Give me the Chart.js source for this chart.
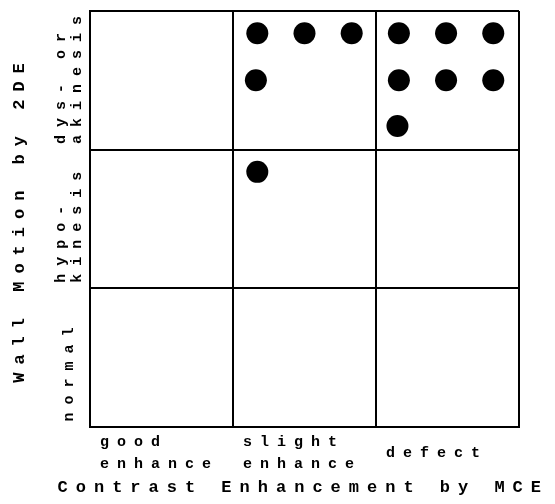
<!DOCTYPE html>
<html lang="en">
  <head>
    <meta charset="UTF-8" />
    <title>Wall Motion vs Contrast Enhancement</title>
    <script src="https://cdn.jsdelivr.net/npm/chart.js"></script>
    <style>
      html, body { margin: 0; padding: 0; background: #fff; }
      #wrap { width: 555px; height: 504px; }
    </style>
  </head>
  <body>
    <div id="wrap"><canvas id="grid" width="555" height="504"></canvas></div>
    <script>
      // categories along each axis (multi-line labels as arrays)
      const contrastCategories = [["good", "enhance"], ["slight", "enhance"], "defect"];
      const motionCategories = ["normal", ["hypo-", "kinesis"], ["dys- or", "akinesis"]];

      // one dot per case (x = contrast, y = wall motion)
      const caseContrast = [1.17, 1.5, 1.83, 1.16, 2.16, 2.49, 2.82, 2.16, 2.49, 2.82, 2.15, 1.17];
      const caseMotion = [2.84, 2.84, 2.84, 2.5, 2.84, 2.84, 2.84, 2.5, 2.5, 2.5, 2.17, 1.84];

      const FONT = "Liberation Mono";
      const SPACING = "8px";

      // typewriter look: wide letter spacing on every text the chart draws
      const spacingPlugin = {
        id: "spacing",
        beforeUpdate(chart) { chart.ctx.letterSpacing = SPACING; },
        beforeDraw(chart) { chart.ctx.letterSpacing = SPACING; },
      };

      // grid lines on cell borders, labels on extra ticks just inside each cell
      function cellTicks(scale, shift) {
        const ticks = [];
        for (let i = 0; i <= 3; i++) {
          ticks.push({ value: i });
          if (i < 3) ticks.push({ value: i + shift });
        }
        scale.ticks = ticks;
      }
      const lineColor = (ctx) =>
        Number.isInteger(ctx.tick.value) ? "#000" : "rgba(0,0,0,0)";

      // empty boxes used only to hold space around the plot
      const spacer = (pos, weight, width) => ({
        type: "linear",
        position: pos,
        weight: weight,
        grid: { display: false },
        border: { display: false },
        ticks: { display: false },
        afterFit: (s) => {
          s.width = width;
          s.paddingTop = 0;
          s.paddingBottom = 0;
        },
      });

      const points = caseContrast.map((x, i) => ({ x: x, y: caseMotion[i] }));

      const yTitleBox = spacer("left", 1, 62);
      yTitleBox.title = {
        display: true,
        text: "Wall Motion by 2DE",
        color: "#000",
        padding: { top: 10, bottom: 0 },
        font: { family: FONT, size: 17, weight: "bold" },
      };

      new Chart(document.getElementById("grid"), {
        type: "scatter",
        data: {
          datasets: [
            {
              data: points,
              pointRadius: 11,
              pointHoverRadius: 11,
              backgroundColor: "#000",
              borderWidth: 0,
            },
          ],
        },
        options: {
          responsive: false,
          animation: false,
          layout: { padding: { left: 0, right: 6, top: 6, bottom: 0 } },
          plugins: {
            legend: { display: false },
            tooltip: { enabled: false },
            title: {
              display: true,
              text: "Contrast Enhancement by MCE",
              position: "bottom",
              align: "end",
              color: "#000",
              padding: { top: 0, bottom: 6 },
              font: { family: FONT, size: 17, weight: "bold", lineHeight: 1.2 },
            },
          },
          scales: {
            x: {
              type: "linear",
              position: "bottom",
              min: 0,
              max: 3,
              afterBuildTicks: (s) => cellTicks(s, 0.07),
              afterFit: (s) => {
                s.height = 50.6;
                s.paddingLeft = 0;
                s.paddingRight = 0;
              },
              grid: { color: lineColor, lineWidth: 2, drawTicks: false },
              border: { color: "#000", width: 2 },
              ticks: {
                autoSkip: false,
                maxRotation: 0,
                align: "start",
                crossAlign: "center",
                padding: 15,
                color: "#000",
                font: { family: FONT, size: 15, weight: "bold", lineHeight: 1.47 },
                callback: (v) => (Number.isInteger(v) ? "" : contrastCategories[Math.floor(v)]),
              },
            },
            y: {
              type: "linear",
              position: "left",
              min: 0,
              max: 3,
              afterBuildTicks: (s) => cellTicks(s, 0.04),
              afterFit: (s) => {
                s.width = 28;
                s.paddingTop = 0;
                s.paddingBottom = 0;
              },
              grid: { color: lineColor, lineWidth: 2, drawTicks: false },
              border: { color: "#000", width: 2 },
              ticks: {
                autoSkip: false,
                minRotation: 90,
                maxRotation: 90,
                mirror: true,
                crossAlign: "near",
                padding: -21,
                color: "#000",
                font: { family: FONT, size: 15, weight: "bold", lineHeight: 1.1 },
                callback: (v) => (Number.isInteger(v) ? "" : motionCategories[Math.floor(v)]),
              },
            },
            yTitle: yTitleBox,
            rightPad: spacer("right", 0, 30),
          },
        },
        plugins: [spacingPlugin],
      });
    </script>
  </body>
</html>
